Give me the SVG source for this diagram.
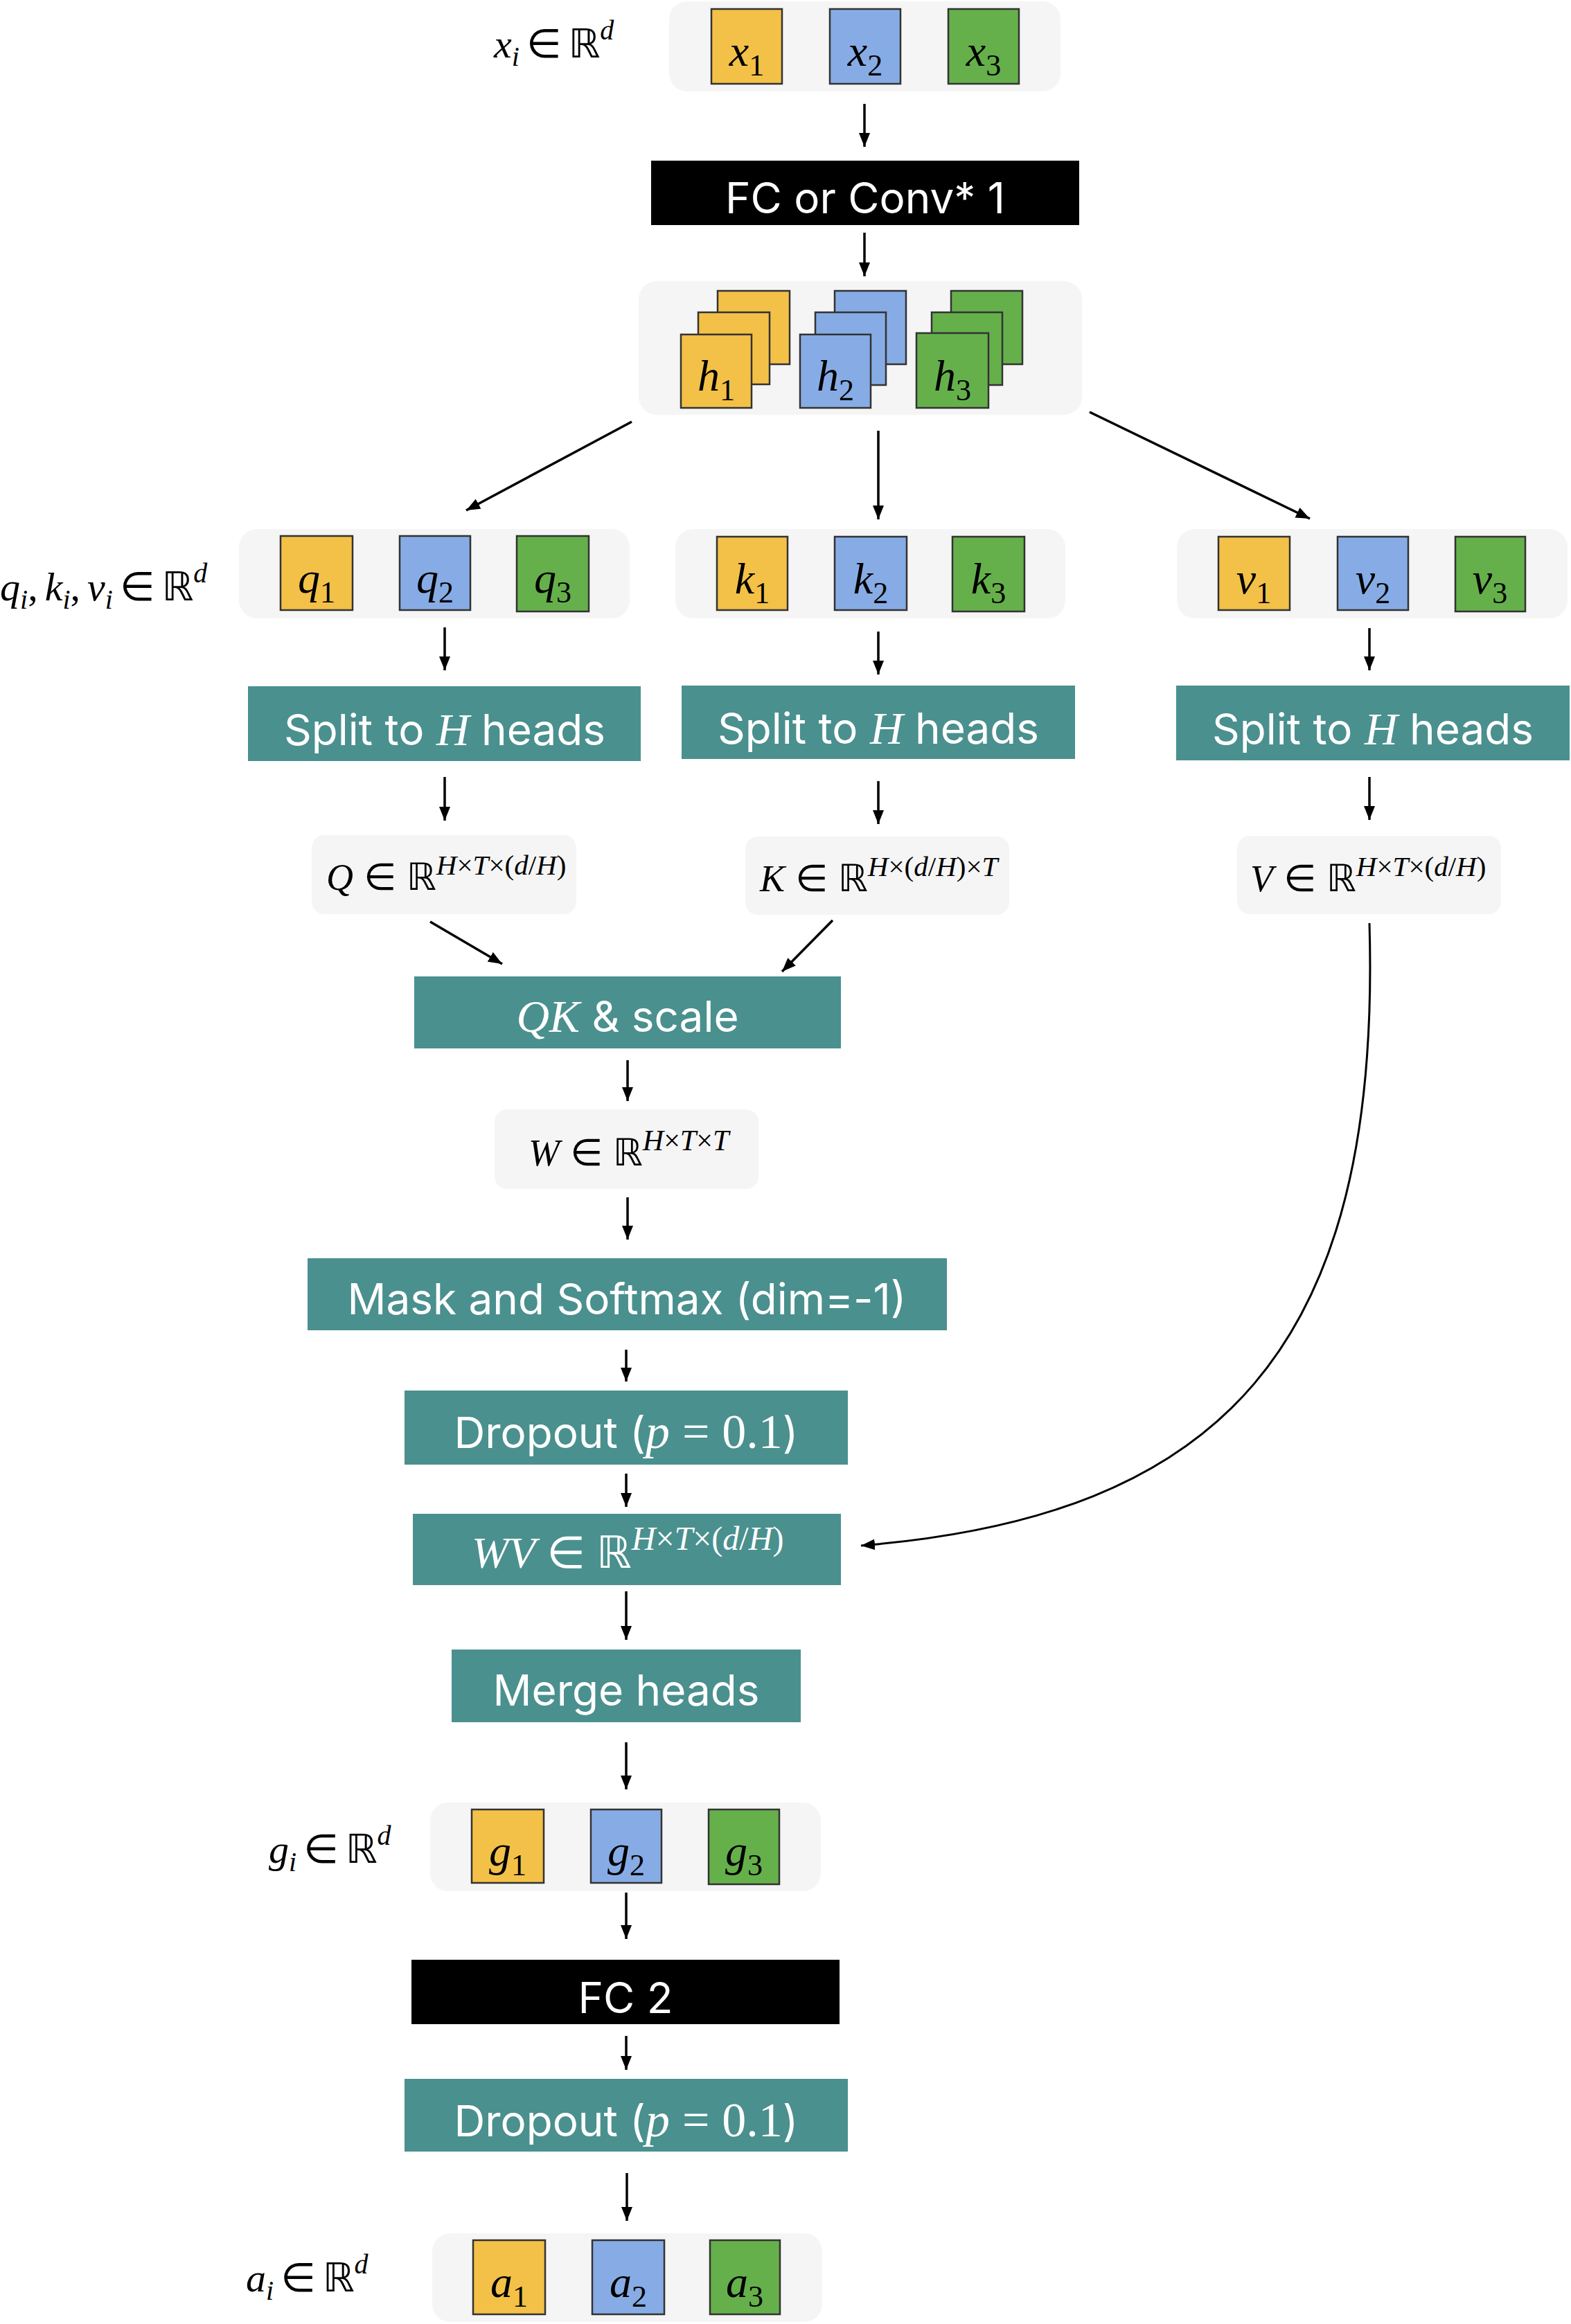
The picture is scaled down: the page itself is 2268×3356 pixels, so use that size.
<svg xmlns="http://www.w3.org/2000/svg" width="2268" height="3356" viewBox="0 0 2268 3356">
<defs>
<marker id="ah" viewBox="0 0 20 16" refX="20" refY="8" markerWidth="20" markerHeight="17" markerUnits="userSpaceOnUse" orient="auto">
<path d="M0,0 L20,8 L0,16 z" fill="#000"/>
</marker>
</defs>
<style>
.bg{fill:#f5f5f5}
.teal{fill:#4a908e}
.blk{fill:#000}
.sq{stroke:#333;stroke-width:2.5}
.y{fill:#f3c148}
.b{fill:#87ace5}
.g{fill:#65b04b}
.conn{fill:none;stroke:#000;stroke-width:3.5;marker-end:url(#ah)}
.curve{fill:none;stroke:#000;stroke-width:3;marker-end:url(#ah)}
.sans{font-family:Inter,"Open Sans","Liberation Sans",sans-serif;font-size:62px;fill:#fff}
.m{font-family:"Liberation Serif","DejaVu Serif",serif;font-style:italic}
.r{font-family:"Liberation Serif","DejaVu Serif",serif;font-style:normal}
.sym{font-family:"DejaVu Sans",sans-serif;font-style:normal}
.sqt{font-size:64px;fill:#000;text-anchor:middle}
.lab{font-size:58px;fill:#000}
.ml{font-size:54px;fill:#000}
.wh{fill:#fff}
</style>

<g id="conns">
<line class="conn" x1="1248" y1="150" x2="1248" y2="212"/>
<line class="conn" x1="1248" y1="336" x2="1248" y2="399"/>
<line class="conn" x1="912" y1="609" x2="673" y2="737"/>
<line class="conn" x1="1268" y1="622" x2="1268" y2="750"/>
<line class="conn" x1="1573" y1="595" x2="1891" y2="749"/>
<line class="conn" x1="642" y1="906" x2="642" y2="968"/>
<line class="conn" x1="1268" y1="912" x2="1268" y2="974"/>
<line class="conn" x1="1977" y1="907" x2="1977" y2="968"/>
<line class="conn" x1="642" y1="1122" x2="642" y2="1185"/>
<line class="conn" x1="1268" y1="1128" x2="1268" y2="1190"/>
<line class="conn" x1="1977" y1="1122" x2="1977" y2="1184"/>
<line class="conn" x1="621" y1="1331" x2="725" y2="1392"/>
<line class="conn" x1="1202" y1="1329" x2="1129" y2="1403"/>
<line class="conn" x1="906" y1="1531" x2="906" y2="1590"/>
<line class="conn" x1="906" y1="1729" x2="906" y2="1790"/>
<line class="conn" x1="904" y1="1949" x2="904" y2="1995"/>
<line class="conn" x1="904" y1="2128" x2="904" y2="2176"/>
<path class="curve" d="M1977,1333 C1995,1950 1760,2190 1243,2232"/>
<line class="conn" x1="904" y1="2298" x2="904" y2="2368"/>
<line class="conn" x1="904" y1="2516" x2="904" y2="2584"/>
<line class="conn" x1="904" y1="2733" x2="904" y2="2800"/>
<line class="conn" x1="904" y1="2940" x2="904" y2="2989"/>
<line class="conn" x1="905" y1="3138" x2="905" y2="3207"/>
</g>

<g id="x-label"><text class="lab m" x="713" y="83">x<tspan font-size="40" dy="12">i</tspan><tspan class="sym" dy="-12" dx="10">∈</tspan><tspan class="sym" dx="10">ℝ</tspan><tspan font-size="40" dy="-26">d</tspan></text></g>

<g id="x-row">
<rect class="bg" x="966" y="2" width="565" height="130" rx="26"/>
<rect class="sq y" x="1027" y="13" width="102" height="108"/>
<rect class="sq b" x="1198" y="13" width="102" height="108"/>
<rect class="sq g" x="1369" y="13" width="102" height="108"/>
<text class="sqt m" x="1078" y="95">x<tspan class="r" font-size="44" dy="14">1</tspan></text>
<text class="sqt m" x="1249" y="95">x<tspan class="r" font-size="44" dy="14">2</tspan></text>
<text class="sqt m" x="1420" y="95">x<tspan class="r" font-size="44" dy="14">3</tspan></text>
</g>

<g id="fc1">
<rect class="blk" x="940" y="232" width="618" height="93"/>
<text class="sans" x="1249" y="308" text-anchor="middle">FC or Conv* 1</text>
</g>

<g id="h-row">
<rect class="bg" x="922" y="406" width="640" height="193" rx="26"/>
<rect class="sq y" x="1036" y="420" width="104" height="106"/>
<rect class="sq y" x="1008" y="451" width="103" height="104"/>
<rect class="sq y" x="983" y="483" width="102" height="106"/>
<rect class="sq b" x="1205" y="420" width="103" height="106"/>
<rect class="sq b" x="1177" y="451" width="102" height="105"/>
<rect class="sq b" x="1155" y="483" width="102" height="106"/>
<rect class="sq g" x="1373" y="420" width="103" height="106"/>
<rect class="sq g" x="1345" y="451" width="102" height="105"/>
<rect class="sq g" x="1323" y="481" width="104" height="108"/>
<text class="sqt m" x="1034" y="564">h<tspan class="r" font-size="44" dy="14">1</tspan></text>
<text class="sqt m" x="1206" y="564">h<tspan class="r" font-size="44" dy="14">2</tspan></text>
<text class="sqt m" x="1375" y="564">h<tspan class="r" font-size="44" dy="14">3</tspan></text>
</g>

<g id="qkv-label"><text class="lab m" x="0" y="867">q<tspan font-size="40" dy="12">i</tspan><tspan class="r" dy="-12">,</tspan><tspan dx="10">k</tspan><tspan font-size="40" dy="12">i</tspan><tspan class="r" dy="-12">,</tspan><tspan dx="10">v</tspan><tspan font-size="40" dy="12">i</tspan><tspan class="sym" dy="-12" dx="10">∈</tspan><tspan class="sym" dx="10">ℝ</tspan><tspan font-size="40" dy="-26">d</tspan></text></g>

<g id="q-row">
<rect class="bg" x="345" y="764" width="564" height="129" rx="26"/>
<rect class="sq y" x="405" y="774" width="104" height="107"/>
<rect class="sq b" x="577" y="774" width="102" height="107"/>
<rect class="sq g" x="746" y="774" width="104" height="109"/>
<text class="sqt m" x="457" y="856">q<tspan class="r" font-size="44" dy="14">1</tspan></text>
<text class="sqt m" x="628" y="856">q<tspan class="r" font-size="44" dy="14">2</tspan></text>
<text class="sqt m" x="798" y="856">q<tspan class="r" font-size="44" dy="14">3</tspan></text>
</g>

<g id="k-row">
<rect class="bg" x="975" y="764" width="563" height="129" rx="26"/>
<rect class="sq y" x="1035" y="775" width="102" height="106"/>
<rect class="sq b" x="1205" y="775" width="104" height="106"/>
<rect class="sq g" x="1375" y="775" width="104" height="108"/>
<text class="sqt m" x="1086" y="857">k<tspan class="r" font-size="44" dy="14">1</tspan></text>
<text class="sqt m" x="1257" y="857">k<tspan class="r" font-size="44" dy="14">2</tspan></text>
<text class="sqt m" x="1427" y="857">k<tspan class="r" font-size="44" dy="14">3</tspan></text>
</g>

<g id="v-row">
<rect class="bg" x="1699" y="764" width="564" height="129" rx="26"/>
<rect class="sq y" x="1759" y="775" width="103" height="106"/>
<rect class="sq b" x="1931" y="775" width="102" height="106"/>
<rect class="sq g" x="2101" y="775" width="101" height="108"/>
<text class="sqt m" x="1810" y="857">v<tspan class="r" font-size="44" dy="14">1</tspan></text>
<text class="sqt m" x="1982" y="857">v<tspan class="r" font-size="44" dy="14">2</tspan></text>
<text class="sqt m" x="2151" y="857">v<tspan class="r" font-size="44" dy="14">3</tspan></text>
</g>

<g id="split-q">
<rect class="teal" x="358" y="991" width="567" height="108"/>
<text class="sans" x="642" y="1076" text-anchor="middle" font-size="63">Split to <tspan class="m" font-size="66">H</tspan> heads</text>
</g>
<g id="split-k">
<rect class="teal" x="984" y="990" width="568" height="106"/>
<text class="sans" x="1268" y="1074" text-anchor="middle" font-size="63">Split to <tspan class="m" font-size="66">H</tspan> heads</text>
</g>
<g id="split-v">
<rect class="teal" x="1698" y="990" width="568" height="108"/>
<text class="sans" x="1982" y="1075" text-anchor="middle" font-size="63">Split to <tspan class="m" font-size="66">H</tspan> heads</text>
</g>

<g id="Q">
<rect class="bg" x="450" y="1206" width="382" height="114" rx="18"/>
<text class="ml m" x="471" y="1285">Q<tspan class="sym" dx="15">∈</tspan><tspan class="sym" dx="15">ℝ</tspan><tspan font-size="41" dy="-22">H</tspan><tspan class="r" font-size="41">×</tspan><tspan font-size="41">T</tspan><tspan class="r" font-size="41">×(</tspan><tspan font-size="41">d</tspan><tspan class="r" font-size="41">/</tspan><tspan font-size="41">H</tspan><tspan class="r" font-size="41">)</tspan></text>
</g>
<g id="K">
<rect class="bg" x="1076" y="1208" width="381" height="113" rx="18"/>
<text class="ml m" x="1097" y="1287">K<tspan class="sym" dx="15">∈</tspan><tspan class="sym" dx="15">ℝ</tspan><tspan font-size="41" dy="-22">H</tspan><tspan class="r" font-size="41">×(</tspan><tspan font-size="41">d</tspan><tspan class="r" font-size="41">/</tspan><tspan font-size="41">H</tspan><tspan class="r" font-size="41">)×</tspan><tspan font-size="41">T</tspan></text>
</g>
<g id="V">
<rect class="bg" x="1786" y="1207" width="381" height="113" rx="18"/>
<text class="ml m" x="1805" y="1287">V<tspan class="sym" dx="15">∈</tspan><tspan class="sym" dx="15">ℝ</tspan><tspan font-size="41" dy="-22">H</tspan><tspan class="r" font-size="41">×</tspan><tspan font-size="41">T</tspan><tspan class="r" font-size="41">×(</tspan><tspan font-size="41">d</tspan><tspan class="r" font-size="41">/</tspan><tspan font-size="41">H</tspan><tspan class="r" font-size="41">)</tspan></text>
</g>

<g id="qk-scale">
<rect class="teal" x="598" y="1410" width="616" height="104"/>
<text class="sans" x="906" y="1490" text-anchor="middle"><tspan class="m" font-size="66">QK</tspan> &amp; scale</text>
</g>

<g id="W">
<rect class="bg" x="714" y="1602" width="381" height="115" rx="18"/>
<text class="ml m" x="763" y="1683" font-size="52">W<tspan class="sym" dx="15">∈</tspan><tspan class="sym" dx="15">ℝ</tspan><tspan font-size="42" dy="-22">H</tspan><tspan class="r" font-size="42">×</tspan><tspan font-size="42">T</tspan><tspan class="r" font-size="42">×</tspan><tspan font-size="42">T</tspan></text>
</g>

<g id="mask-softmax">
<rect class="teal" x="444" y="1817" width="923" height="104"/>
<text class="sans" x="905" y="1898" text-anchor="middle">Mask and Softmax (dim=-1)</text>
</g>

<g id="dropout1">
<rect class="teal" x="584" y="2008" width="640" height="107"/>
<text class="sans" x="904" y="2091" text-anchor="middle">Dropout (<tspan class="m" font-size="70">p</tspan><tspan class="r" font-size="70" dx="18">=</tspan><tspan class="r" font-size="70" dx="18">0.1</tspan>)</text>
</g>

<g id="WV">
<rect class="teal" x="596" y="2186" width="618" height="103"/>
<text class="m wh" x="681" y="2264" font-size="64">WV<tspan class="sym" dx="16">∈</tspan><tspan class="sym" dx="16">ℝ</tspan><tspan font-size="48" dy="-26">H</tspan><tspan class="r" font-size="48">×</tspan><tspan font-size="48">T</tspan><tspan class="r" font-size="48">×(</tspan><tspan font-size="48">d</tspan><tspan class="r" font-size="48">/</tspan><tspan font-size="48">H</tspan><tspan class="r" font-size="48">)</tspan></text>
</g>

<g id="merge-heads">
<rect class="teal" x="652" y="2382" width="504" height="105"/>
<text class="sans" x="904" y="2463" text-anchor="middle">Merge heads</text>
</g>

<g id="g-label"><text class="lab m" x="388" y="2690">g<tspan font-size="40" dy="12">i</tspan><tspan class="sym" dy="-12" dx="10">∈</tspan><tspan class="sym" dx="10">ℝ</tspan><tspan font-size="40" dy="-26">d</tspan></text></g>

<g id="g-row">
<rect class="bg" x="621" y="2603" width="564" height="128" rx="26"/>
<rect class="sq y" x="681" y="2613" width="104" height="106"/>
<rect class="sq b" x="853" y="2613" width="102" height="106"/>
<rect class="sq g" x="1023" y="2613" width="102" height="108"/>
<text class="sqt m" x="733" y="2694">g<tspan class="r" font-size="44" dy="14">1</tspan></text>
<text class="sqt m" x="904" y="2694">g<tspan class="r" font-size="44" dy="14">2</tspan></text>
<text class="sqt m" x="1074" y="2694">g<tspan class="r" font-size="44" dy="14">3</tspan></text>
</g>

<g id="fc2">
<rect class="blk" x="594" y="2830" width="618" height="93"/>
<text class="sans" x="903" y="2907" text-anchor="middle">FC 2</text>
</g>

<g id="dropout2">
<rect class="teal" x="584" y="3002" width="640" height="105"/>
<text class="sans" x="904" y="3085" text-anchor="middle">Dropout (<tspan class="m" font-size="70">p</tspan><tspan class="r" font-size="70" dx="18">=</tspan><tspan class="r" font-size="70" dx="18">0.1</tspan>)</text>
</g>

<g id="a-label"><text class="lab m" x="355" y="3309">a<tspan font-size="40" dy="12">i</tspan><tspan class="sym" dy="-12" dx="10">∈</tspan><tspan class="sym" dx="10">ℝ</tspan><tspan font-size="40" dy="-26">d</tspan></text></g>

<g id="a-row">
<rect class="bg" x="624" y="3225" width="563" height="128" rx="26"/>
<rect class="sq y" x="683" y="3235" width="104" height="107"/>
<rect class="sq b" x="855" y="3235" width="104" height="107"/>
<rect class="sq g" x="1025" y="3235" width="101" height="107"/>
<text class="sqt m" x="735" y="3317">a<tspan class="r" font-size="44" dy="14">1</tspan></text>
<text class="sqt m" x="907" y="3317">a<tspan class="r" font-size="44" dy="14">2</tspan></text>
<text class="sqt m" x="1075" y="3317">a<tspan class="r" font-size="44" dy="14">3</tspan></text>
</g>
</svg>
